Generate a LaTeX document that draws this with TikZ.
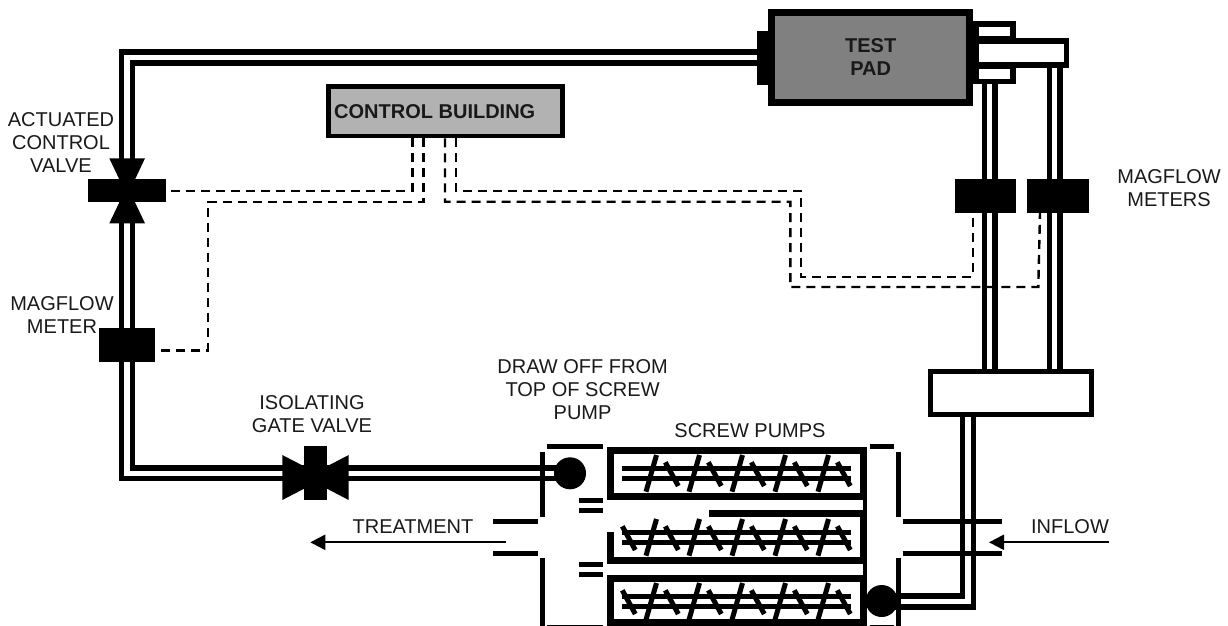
\documentclass[tikz,border=0pt]{standalone}
\usepackage{fontspec}
\setmainfont{Liberation Sans}
\usetikzlibrary{arrows.meta}
\tikzset{
  pipe/.style={line width=5.4pt,draw=black},
  wall/.style={line width=5pt,draw=black},
  pumpwall/.style={line width=7.2pt,draw=black},
  screw/.style={line width=5pt,draw=black},
  sig/.style={line width=2.4pt,draw=black,dash pattern=on 9pt off 6pt},
  flow/.style={line width=2.2pt,draw=black,-{Triangle[length=15pt,width=15pt]}},
  solidblk/.style={fill=black,draw=none,inner sep=0pt,outer sep=0pt},
  lbl/.style={font=\fontsize{20}{23}\selectfont,align=center,inner sep=0pt,text=black!90},
  blbl/.style={font=\fontsize{20}{23}\selectfont\bfseries,align=center,inner sep=0pt,text=black!90},
  framed/.style={draw=black,inner sep=0pt},
  disc/.style={circle,fill=black,draw=none,inner sep=0pt,minimum size=32pt}
}
\begin{document}
\begin{tikzpicture}[x=1pt,y=-1pt]
\useasboundingbox (0,0) rectangle (1228,626);
% --- equipment nodes
\node[framed,line width=7pt,fill=black!50,minimum width=198pt,minimum height=89.7pt] (pad) at (870.8,57.7) {};
\node[solidblk,minimum width=11pt,minimum height=54pt] (padflange) at (762.8,57.7) {};
\node[framed,line width=4.7pt,fill=black!30,minimum width=234.3pt,minimum height=49.6pt] (ctl) at (445.5,111.2) {};
\node[framed,line width=5pt,fill=white,minimum width=161.6pt,minimum height=42.7pt] (hdr) at (1011,393.2) {};
% --- pipe coordinates
\coordinate (a1) at (121.5,52);  \coordinate (a2) at (132.5,63);
\coordinate (b1) at (121.5,478.5); \coordinate (b2) at (132.5,467.8);
\coordinate (d1) at (570,478.5); \coordinate (d2) at (570,467.8);
\coordinate (s1) at (885,607);  \coordinate (s2) at (885,596);
\coordinate (u1) at (973.3,607); \coordinate (u2) at (962.7,596);
% main loop
\draw[pipe] (padflange.west |- a1) -- (a1) -- (b1) -- (d1);
\draw[pipe] (padflange.west |- a2) -- (a2) -- (b2) -- (d2);
% inflow pipe to header
\draw[pipe] (s1) -- (u1) -- (u1 |- hdr.south);
\draw[pipe] (s2) -- (u2) -- (u2 |- hdr.south);
% header to test pad
\foreach \px/\ytop in {984.2/84,994.9/84,1049.2/67.7,1059.8/67.7}{
  \draw[pipe] (\px,\ytop) -- (\px,369.4);
}
% outlet manifold at test pad
\fill[black] (973.3,21) rectangle (1015.7,84);
\fill[black] (973.3,38.3) rectangle (1069.3,67.7);
\fill[white] (979.3,26.7) rectangle (1010,35.7);
\fill[white] (979.3,69.3) rectangle (1010,78.7);
\fill[white] (979.3,44) rectangle (1064,62.3);
% --- meters and valves
\node[solidblk,minimum width=61.6pt,minimum height=33.7pt] (mf1) at (985.5,195.8) {};
\node[solidblk,minimum width=61.7pt,minimum height=33.7pt] (mf2) at (1057.8,195.8) {};
\node[solidblk,minimum width=55.7pt,minimum height=33.4pt] (mf3) at (127.1,345) {};
\node[solidblk,minimum width=77.4pt,minimum height=23pt] (acv) at (127,190.8) {};
\fill[black] (109.3,158.3) -- (145,158.3) -- (127.2,196) -- cycle;
\fill[black] (109.3,223.3) -- (145,223.3) -- (127.2,186) -- cycle;
\node[solidblk,minimum width=23.3pt,minimum height=54pt] (gate) at (315.6,473) {};
\fill[black] (282.3,455) -- (282.3,500) -- (325.7,477.5) -- cycle;
\fill[black] (348.7,455) -- (348.7,500) -- (305.5,477.5) -- cycle;
% --- signal lines
\coordinate (ca) at (412.3,191);   \coordinate (cb) at (423.3,201.7);
\coordinate (cc) at (445,201.7);   \coordinate (cd) at (455.7,191);
\coordinate (me) at (157,350.3);
\draw[sig] (ctl.south -| ca) -- (ca) -- (acv.east |- ca);
\draw[sig] (ctl.south -| cb) -- (cb) -- (207.7,201.7) -- (207.7,350.3) -- (me);
\draw[sig] (ctl.south -| cc) -- (cc) -- (790.3,201.7) -- (790.3,287) -- (1038.3,287) -- (1040,212.7);
\draw[sig] (ctl.south -| cd) -- (cd) -- (800.7,191) -- (800.7,276.7) -- (972.7,276.7) -- (972.7,212.7);
% --- screw pump casings
\draw[pumpwall] (610.3,450.3) rectangle (863.1,496.4);
\draw[pumpwall] (709,513.7) -- (863.1,513.7) -- (863.1,560.3) -- (610.3,560.3) -- (610.3,531.7);
\draw[pumpwall] (610.3,578.3) rectangle (863.1,622.4);
\draw[line width=4pt] (864.7,446.7) -- (864.7,626);
% --- screws
\foreach \dy/\first in {0/1,64/0,128/0}{
  \draw[screw] (622,468+\dy) -- (851,468+\dy);
  \draw[screw] (622,478+\dy) -- (851,478+\dy);
  \foreach \i in {0,...,4}{
    \draw[screw] (646+43*\i,491.7+\dy) -- (656.5+43*\i,455+\dy);
    \draw[screw] (665.3+43*\i,462.3+\dy) -- (678.3+43*\i,486+\dy);
  }
  \ifnum\first=0
    \draw[screw] (622.3,526.3+\dy-64) -- (635.3,550+\dy-64);
  \fi
}
% --- wet-well walls, left
\draw[wall] (546.7,446.3) -- (602.7,446.3);
\draw[wall] (546.7,627.5) -- (602.7,627.5);
\draw[wall] (542.3,451.7) -- (542.3,517.3);
\draw[wall] (542.3,558) -- (542.3,626);
\draw[wall] (493.3,521) -- (538.3,521);
\draw[wall] (493.3,553.3) -- (538.3,553.3);
\draw[wall] (579.3,500) -- (602.7,500);
\draw[wall] (579.3,510.7) -- (602.7,510.7);
\draw[wall] (579.3,564) -- (602.7,564);
\draw[wall] (579.3,574.3) -- (602.7,574.3);
% --- wet-well walls, right
\draw[wall] (870,446.7) -- (894,446.7);
\draw[wall] (870,627.5) -- (894,627.5);
\draw[wall] (898,451.7) -- (898,516.7);
\draw[wall] (898,557.7) -- (898,626);
\draw[wall] (902.7,521) -- (1001.7,521);
\draw[wall] (902.7,553.5) -- (1001.7,553.5);
% --- pumps' draw-off discs
\node[disc] (dtop) at (570,473.3) {};
\node[disc] (dbot) at (881.7,601) {};
% --- flows
\coordinate (inflowA) at (1109,542.3); \coordinate (inflowB) at (989,542.3);
\coordinate (treatA) at (505.7,542.3); \coordinate (treatB) at (310.3,542.3);
\draw[flow] (inflowA) -- (inflowB);
\draw[flow] (treatA) -- (treatB);
% --- labels
\node[blbl] (tpad) at (870.7,57.5) {TEST\\PAD};
\node[blbl,anchor=west] (tctl) at (334,111.7) {CONTROL BUILDING};
\node[lbl] (t1) at (61,143) {ACTUATED\\CONTROL\\VALVE};
\node[lbl] (t2) at (62,314.7) {MAGFLOW\\METER};
\node[lbl] (t3) at (312,414) {ISOLATING\\GATE VALVE};
\node[lbl] (t4) at (582.6,390) {DRAW OFF FROM\\TOP OF SCREW\\PUMP};
\node[lbl] (t5) at (750,431) {SCREW PUMPS};
\node[lbl] (t6) at (1169,187.7) {MAGFLOW\\METERS};
\node[lbl] (t7) at (413,526.7) {TREATMENT};
\node[lbl] (t8) at (1070,526.7) {INFLOW};
\end{tikzpicture}
\end{document}
